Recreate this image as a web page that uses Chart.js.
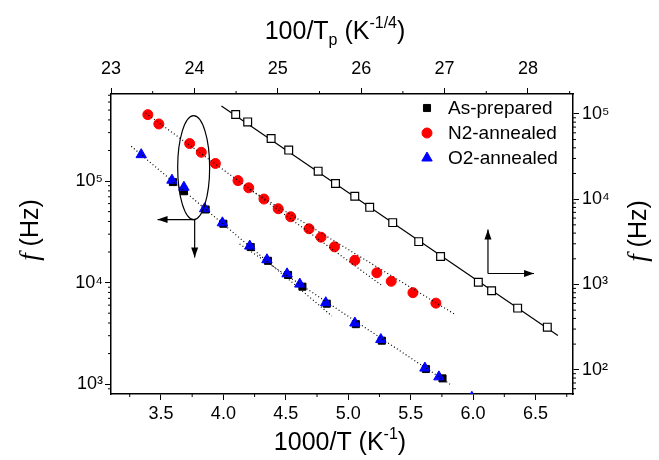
<!DOCTYPE html>
<html><head><meta charset="utf-8">
<script src="https://cdn.jsdelivr.net/npm/chart.js@4/dist/chart.umd.min.js"></script>
<style>html,body{margin:0;padding:0;background:#fff}</style>
</head><body>
<canvas id="c" width="659" height="460"></canvas>
<script>
// ---- data (1000/T in K^-1, f in Hz) ----
const asPreparedX = [3.596,3.684,3.858,4.000,4.219,4.357,4.518,4.633,4.828,5.061,5.269,5.622,5.755];
const asPreparedF = [9.78e4,7.94e4,5.25e4,3.80e4,2.24e4,1.64e4,1.19e4,9.12e3,6.2e3,3.9e3,2.68e3,1.41e3,1.14e3];
const n2X = [3.395,3.483,3.730,3.823,3.936,4.117,4.203,4.325,4.439,4.539,4.686,4.782,4.890,5.053,5.229,5.344,5.518,5.702];
const n2F = [4.51e5,3.65e5,2.34e5,1.92e5,1.49e5,1.01e5,8.58e4,6.65e4,5.34e4,4.45e4,3.39e4,2.80e4,2.25e4,1.66e4,1.25e4,1.03e4,7.96e3,6.28e3];
const o2X = [3.342,3.588,3.684,3.850,3.992,4.211,4.349,4.510,4.612,4.820,5.053,5.261,5.614,5.726,5.990];
const o2F = [1.82e5,1.02e5,8.70e4,5.34e4,3.88e4,2.29e4,1.68e4,1.22e4,9.67e3,6.34e3,4.00e3,2.75e3,1.44e3,1.18e3,743];
// 100/Tp (K^-1/4) vs f (right axis)
const tpX = [24.495,24.639,24.920,25.131,25.484,25.692,25.923,26.102,26.378,26.690,26.952,27.405,27.564,27.876,28.232];
const tpF = [9.82e4,8.05e4,5.14e4,3.76e4,2.13e4,1.53e4,1.08e4,8.02e3,5.31e3,3.18e3,2.13e3,1.06e3,843,528,316];
// fit lines (end points)
const tpFitX = [24.324, 28.359];   const tpFitF = [1.24e5, 252];
const n2FitAX = [3.377, 5.269];    const n2FitAF = [4.67e5, 9.38e3];
const n2FitBX = [4.211, 5.855];    const n2FitBF = [8.24e4, 4.87e3];
const o2FitAX = [3.262, 4.869];    const o2FitAF = [2.20e5, 4.69e3];
const o2FitBX = [4.130, 5.815];    const o2FitBF = [2.40e4, 1.0e3];
// ticks
const bottomTicks = [3.5,4.0,4.5,5.0,5.5,6.0,6.5];
const topTicks = [23,24,25,26,27,28];
const leftDecades = [1e3,1e4,1e5];
const rightDecades = [1e2,1e3,1e4,1e5];
const legendLabels = ['As-prepared','N2-annealed','O2-annealed'];

const pts = (xs, ys) => xs.map((v, i) => ({x: v, y: ys[i]}));
const SUP = {'0':'⁰','1':'¹','2':'²','3':'³','4':'⁴','5':'⁵','6':'⁶','7':'⁷','8':'⁸','9':'⁹'};
const decLabel = v => '10' + String(Math.round(Math.log10(v))).split('').map(c => SUP[c]).join('');
const FONT = "'Liberation Sans', Arial, sans-serif";

const dotted = (xs, ys, ax, ay) => ({
  type: 'line', data: pts(xs, ys), xAxisID: ax || 'x', yAxisID: ay || 'y',
  borderColor: '#000', borderWidth: 1.2, borderDash: [1, 2.5], pointRadius: 0,
  fill: false, order: 0, showLine: true
});

function axisBase(extra) {
  return Object.assign({
    grid: {display: true, drawOnChartArea: false, drawTicks: true, tickLength: 6, color: '#000', lineWidth: 1},
    border: {display: true, color: '#000', width: 1.5},
    ticks: {color: '#000', font: {family: FONT, size: 18}, maxRotation: 0, autoSkip: false},
    title: {display: false}
  }, extra);
}

const deco = {
  id: 'deco',
  afterDraw(chart) {
    const ctx = chart.ctx, ca = chart.chartArea;
    const sx = chart.scales.x, sx2 = chart.scales.x2, sy = chart.scales.y, sy2 = chart.scales.y2;
    ctx.save();
    ctx.strokeStyle = '#000'; ctx.fillStyle = '#000'; ctx.lineWidth = 1;
    // minor ticks
    const ML = 3;
    ctx.beginPath();
    for (let v = 3.25; v < 6.8; v += 0.5) { const p = sx.getPixelForValue(v); ctx.moveTo(p, ca.bottom); ctx.lineTo(p, ca.bottom + ML); }
    for (let v = 23.5; v < 28.54; v += 1) { const p = sx2.getPixelForValue(v); ctx.moveTo(p, ca.top); ctx.lineTo(p, ca.top - ML); }
    for (let d = 1e2; d <= 1e5; d *= 10) for (let k = 2; k <= 9; k++) {
      const v = k * d;
      if (v > sy.min && v < sy.max) { const p = sy.getPixelForValue(v); ctx.moveTo(ca.left, p); ctx.lineTo(ca.left - ML, p); }
    }
    for (let d = 10; d <= 1e5; d *= 10) for (let k = 2; k <= 9; k++) {
      const v = k * d;
      if (v > sy2.min && v < sy2.max) { const p = sy2.getPixelForValue(v); ctx.moveTo(ca.right, p); ctx.lineTo(ca.right + ML, p); }
    }
    ctx.stroke();

    // ellipse marking the low-T branch
    const ex1 = sx.getPixelForValue(3.634), ex2 = sx.getPixelForValue(3.890);
    const ey1 = sy.getPixelForValue(4.41e5), ey2 = sy.getPixelForValue(4.18e4);
    ctx.beginPath();
    ctx.ellipse((ex1 + ex2) / 2, (ey1 + ey2) / 2, (ex2 - ex1) / 2, (ey2 - ey1) / 2, 0, 0, Math.PI * 2);
    ctx.lineWidth = 1.2; ctx.stroke();

    function arrow(x1, y1, x2, y2) {
      ctx.beginPath(); ctx.moveTo(x1, y1); ctx.lineTo(x2, y2); ctx.lineWidth = 1.2; ctx.stroke();
      const a = Math.atan2(y2 - y1, x2 - x1), L = 10, W = 3.5;
      ctx.beginPath();
      ctx.moveTo(x2, y2);
      ctx.lineTo(x2 - L * Math.cos(a) + W * Math.sin(a), y2 - L * Math.sin(a) - W * Math.cos(a));
      ctx.lineTo(x2 - L * Math.cos(a) - W * Math.sin(a), y2 - L * Math.sin(a) + W * Math.cos(a));
      ctx.closePath(); ctx.fill();
    }
    const cx1 = sx.getPixelForValue(3.770), cy1 = sy.getPixelForValue(4.18e4);
    arrow(cx1, cy1, sx.getPixelForValue(3.473), cy1);
    arrow(cx1, cy1, cx1, sy.getPixelForValue(1.77e4));
    const cx2 = sx.getPixelForValue(6.119), cy2 = sy.getPixelForValue(1.23e4);
    arrow(cx2, cy2, cx2, sy.getPixelForValue(3.33e4));
    arrow(cx2, cy2, sx.getPixelForValue(6.488), cy2);

    // legend
    const ds = chart.data.datasets;
    const legendSets = [ds[6], ds[5], ds[4]];
    legendSets.forEach((d, i) => {
      const mx = ca.right - 146, my = ca.top + 14 + i * 25;
      ctx.fillStyle = d.backgroundColor; ctx.strokeStyle = d.borderColor; ctx.lineWidth = 1;
      Chart.helpers.drawPoint(ctx, {pointStyle: d.pointStyle, radius: d.pointRadius, rotation: 0, borderWidth: 1}, mx, my);
      ctx.fillStyle = '#000';
      ctx.font = '19px ' + FONT; ctx.textBaseline = 'middle'; ctx.textAlign = 'left';
      ctx.fillText(legendLabels[i], ca.right - 125, my + 1);
    });

    // titles with sub/superscripts
    function rich(parts, cx, cy, rot) {
      ctx.save(); ctx.translate(cx, cy); if (rot) ctx.rotate(rot);
      ctx.textBaseline = 'alphabetic'; ctx.textAlign = 'left'; ctx.fillStyle = '#000';
      let w = 0;
      parts.forEach(p => { ctx.font = p.f; p.w = ctx.measureText(p.t).width; w += p.w; });
      let x = -w / 2;
      parts.forEach(p => { ctx.font = p.f; ctx.fillText(p.t, x, 9 + (p.dy || 0)); x += p.w; });
      ctx.restore();
    }
    const big = '25px ' + FONT, small = '16px ' + FONT, ital = 'italic 27px "Liberation Serif", serif';
    rich([{t: '1000/T (K', f: big}, {t: '-1', f: small, dy: -11}, {t: ')', f: big}], (ca.left + ca.right) / 2 - 2, 441);
    rich([{t: '100/T', f: big}, {t: 'p', f: small, dy: 6}, {t: ' (K', f: big}, {t: '-1/4', f: small, dy: -11}, {t: ')', f: big}], 335, 30);
    rich([{t: 'f', f: ital}, {t: ' (Hz)', f: big}], 29, 230, -Math.PI / 2);
    rich([{t: 'f', f: ital}, {t: ' (Hz)', f: big}], 637, 231, -Math.PI / 2);
    ctx.restore();
  }
};

new Chart(document.getElementById('c'), {
  type: 'scatter',
  data: {
    datasets: [
      dotted(n2FitAX, n2FitAF),
      dotted(n2FitBX, n2FitBF),
      dotted(o2FitAX, o2FitAF),
      dotted(o2FitBX, o2FitBF),
      {label: 'O2-annealed', data: pts(o2X, o2F), xAxisID: 'x', yAxisID: 'y', pointStyle: 'triangle', pointRadius: 6,
       backgroundColor: '#0000ff', borderColor: '#0000ff', borderWidth: 1, order: 1, clip: 0},
      {label: 'N2-annealed', data: pts(n2X, n2F), xAxisID: 'x', yAxisID: 'y', pointStyle: 'circle', pointRadius: 5,
       backgroundColor: '#ff0000', borderColor: '#ff0000', borderWidth: 1, order: 2},
      {label: 'As-prepared', data: pts(asPreparedX, asPreparedF), xAxisID: 'x', yAxisID: 'y', pointStyle: 'rect', pointRadius: 5,
       backgroundColor: '#000000', borderColor: '#000000', borderWidth: 1, order: 3},
      {label: '100/Tp', data: pts(tpX, tpF), xAxisID: 'x2', yAxisID: 'y2', pointStyle: 'rect', pointRadius: 5.5,
       backgroundColor: '#ffffff', borderColor: '#000000', borderWidth: 1.2, order: 4},
      {type: 'line', data: pts(tpFitX, tpFitF), xAxisID: 'x2', yAxisID: 'y2', borderColor: '#000', borderWidth: 1.2,
       pointRadius: 0, fill: false, order: 5}
    ]
  },
  options: {
    responsive: false, animation: false, devicePixelRatio: 1,
    layout: {padding: 0},
    plugins: {legend: {display: false}, tooltip: {enabled: false}},
    scales: {
      x: axisBase({type: 'linear', position: 'bottom', min: 3.1, max: 6.8,
        afterFit: s => { s.height = 66; },
        afterBuildTicks: s => { s.ticks = bottomTicks.map(v => ({value: v})); },
        ticks: {color: '#000', font: {family: FONT, size: 18}, padding: 3, callback: v => Number(v).toFixed(1)}}),
      x2: axisBase({type: 'linear', position: 'top', min: 23, max: 28.54,
        afterFit: s => { s.height = 94; },
        afterBuildTicks: s => { s.ticks = topTicks.map(v => ({value: v})); },
        ticks: {color: '#000', font: {family: FONT, size: 18}, padding: 8, callback: v => String(v)}}),
      y: axisBase({type: 'logarithmic', position: 'left', min: 800, max: 7.2e5,
        afterFit: s => { s.width = 111; },
        afterBuildTicks: s => { s.ticks = leftDecades.map(v => ({value: v, major: true})); },
        ticks: {color: '#000', font: {family: FONT, size: 18}, padding: 2, callback: v => decLabel(v)}}),
      y2: axisBase({type: 'logarithmic', position: 'right', min: 52, max: 1.71e5,
        afterFit: s => { s.width = 86; },
        afterBuildTicks: s => { s.ticks = rightDecades.map(v => ({value: v, major: true})); },
        ticks: {color: '#000', font: {family: FONT, size: 18}, padding: 3, callback: v => decLabel(v)}})
    }
  },
  plugins: [deco]
});
</script>
</body></html>
